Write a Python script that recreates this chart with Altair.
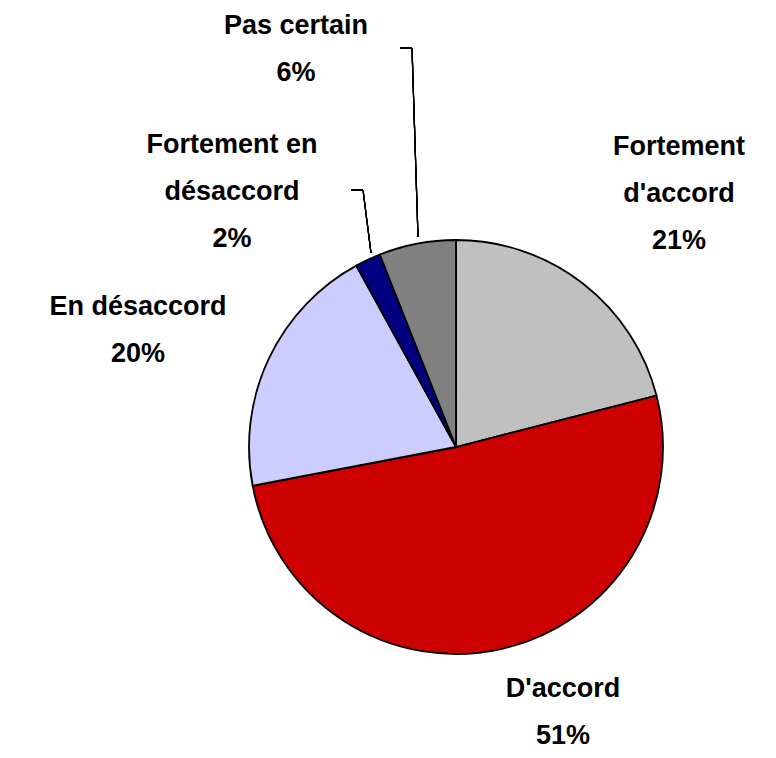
import altair as alt
import pandas as pd

# ---- data ----
categories = ["Fortement d'accord", "D'accord", "En désaccord", "Fortement en désaccord", "Pas certain"]
label_lines = ["Fortement\nd'accord", "D'accord", "En désaccord", "Fortement en\ndésaccord", "Pas certain"]
values = [21, 51, 20, 2, 6]
colors = ["#C0C0C0", "#CC0000", "#CCCCFF", "#000080", "#808080"]

# ---- layout (pixel positions of first label line, chart coordinates) ----
label_x = [671, 555, 130, 224, 288]
label_y = [139, 681, 299, 137, 18]

pie_df = pd.DataFrame({
    "category": categories,
    "value": values,
    "idx": list(range(len(categories))),
})

lab_df = pd.DataFrame({
    "label": [f"{t}\n{v}%" for t, v in zip(label_lines, values)],
    "lx": label_x,
    "ly": label_y,
})

CX, CY, R = 448, 439, 207

pie = alt.Chart(pie_df).mark_arc(radius=R, stroke="black", strokeWidth=1.8).encode(
    theta=alt.Theta("value:Q", stack=True),
    order=alt.Order("idx:Q"),
    color=alt.Color("category:N", scale=alt.Scale(domain=categories, range=colors), legend=None),
    x=alt.value(CX),
    y=alt.value(CY),
)

labels = alt.Chart(lab_df).mark_text(
    font="Liberation Sans", fontWeight="bold", fontSize=27, color="black",
    lineBreak="\n", lineHeight=47, align="center", baseline="middle",
).encode(
    x=alt.X("lx:Q", scale=None, axis=None),
    y=alt.Y("ly:Q", scale=None, axis=None),
    text="label:N",
)

def seg(x1, y1, x2, y2):
    return alt.Chart(pie_df).mark_rule(color="black", strokeWidth=1.2).encode(
        x=alt.value(x1), y=alt.value(y1), x2=alt.value(x2), y2=alt.value(y2)
    )

leaders = [
    seg(392, 40, 404, 40),
    seg(404, 40, 410, 229),
    seg(343, 182, 355, 182),
    seg(355, 182, 363, 245),
]

chart = alt.layer(pie, labels, *leaders).properties(
    width=760, height=742, padding=0
).configure_view(stroke=None)

chart.save("out.html", embed_options={"renderer": "svg", "actions": False})
